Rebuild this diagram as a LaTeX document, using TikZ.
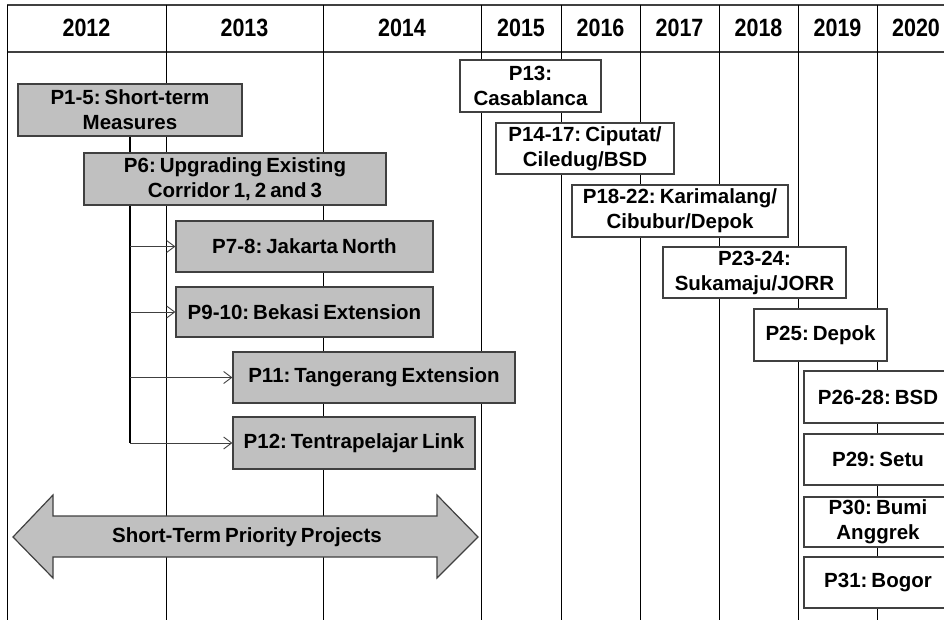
\documentclass[tikz,border=0pt]{standalone}
\usepackage{fontspec}
\setmainfont[WordSpace=0.7]{Liberation Sans}
\newfontfamily\yearfont[FakeStretch=0.86]{Liberation Sans}
\usetikzlibrary{arrows.meta}
\definecolor{boxgray}{HTML}{C0C0C0}
\definecolor{edgegray}{HTML}{404040}
\frenchspacing

\begin{document}
\begin{tikzpicture}[
    x=1pt, y=-1pt,
    project/.style={
        rectangle,
        draw=edgegray,
        line width=1.2pt,
        align=center,
        inner sep=0pt,
        font=\fontsize{20.5}{25}\selectfont\bfseries
    },
    shortterm/.style={project, fill=boxgray},   % grey boxes of the first years
    longterm/.style={project, fill=white},      % white boxes of the later years
    year/.style={font=\fontsize{25}{28}\yearfont\bfseries},
    feed/.style={draw=edgegray, line width=0.9pt, -{Straight Barb[length=8pt,width=12pt]}}
]
\useasboundingbox (0,0) rectangle (944,620);

% time axis
\draw[edgegray, line width=1.4pt] (7,5) -- (944,5) (7,52) -- (944,52);
\foreach \x in {7,166,323,481,561,640,719,798,877}
    \draw[line width=0.8pt] (\x,5) -- (\x,620);
\foreach \x/\yr in {86.5/2012,244.5/2013,402/2014,521/2015,600.5/2016,679.5/2017,758.5/2018,837.5/2019,916/2020}
    \node[year] (y\yr) at (\x,28) {\yr};

% short-term projects
\node[shortterm, minimum width=224pt, minimum height=52pt] (p15)  at (130,110)   {P1-5: Short-term\\Measures};
\node[shortterm, minimum width=302pt, minimum height=52pt] (p6)   at (235,179)   {P6: Upgrading Existing\\Corridor 1, 2 and 3};
\node[shortterm, minimum width=257pt, minimum height=51pt] (p78)  at (304.5,246.5) {P7-8: Jakarta North};
\node[shortterm, minimum width=257pt, minimum height=50pt] (p910) at (304.5,312) {P9-10: Bekasi Extension};
\node[shortterm, minimum width=282pt, minimum height=51pt] (p11)  at (374,377.5) {P11: Tangerang Extension};
\node[shortterm, minimum width=242pt, minimum height=52pt] (p12)  at (354,443)   {P12: Tentrapelajar Link};

% later projects
\node[longterm, minimum width=141pt, minimum height=52pt] (p13)   at (530.5,86)   {P13:\\Casablanca};
\node[longterm, minimum width=178pt, minimum height=51pt] (p1417) at (585,148.5)  {P14-17: Ciputat/\\Ciledug/BSD};
\node[longterm, minimum width=216pt, minimum height=52pt] (p1822) at (680,211)    {P18-22: Karimalang/\\Cibubur/Depok};
\node[longterm, minimum width=183pt, minimum height=51pt] (p2324) at (754.5,272.5) {P23-24:\\Sukamaju/JORR};
\node[longterm, minimum width=133pt, minimum height=52pt] (p25)   at (820.5,335)  {P25: Depok};
\node[longterm, minimum width=148pt, minimum height=52pt] (p2628) at (878,397)    {P26-28: BSD};
\node[longterm, minimum width=148pt, minimum height=51pt] (p29)   at (878,459.5)  {P29: Setu};
\node[longterm, minimum width=148pt, minimum height=50pt] (p30)   at (878,522)    {P30: Bumi\\Anggrek};
\node[longterm, minimum width=148pt, minimum height=51pt] (p31)   at (878,582.5)  {P31: Bogor};

% trunk and branches
\coordinate (trunk) at (130,443);
\draw[line width=1.3pt] (p15.south) -- (p6.north -| p15.south);
\draw[line width=1.3pt] (p6.south -| trunk) -- (trunk);
\foreach \p in {p78,p910,p11,p12}
    \draw[feed] (\p.west -| trunk) -- (\p.west);

% priority band
\draw[draw=edgegray, line width=1.2pt, fill=boxgray]
    (13,537) -- (53,495) -- (53,516) -- (437,516) -- (437,495) -- (478,537)
    -- (437,578) -- (437,557) -- (53,557) -- (53,578) -- cycle;
\node[font=\fontsize{20.5}{25}\selectfont\bfseries] (band) at (247,537) {Short-Term Priority Projects};
\end{tikzpicture}
\end{document}
